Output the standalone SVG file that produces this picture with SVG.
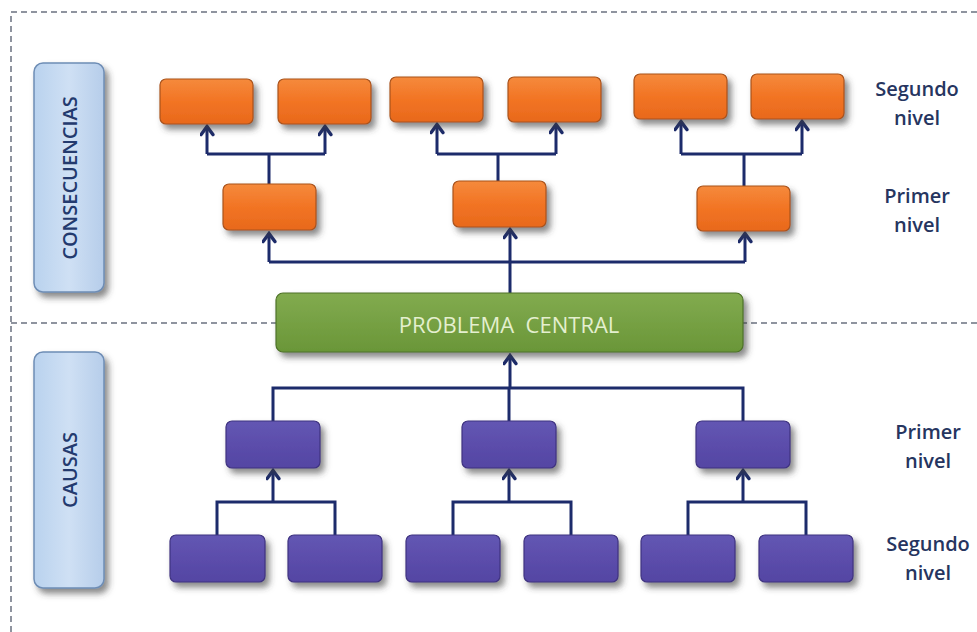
<svg xmlns="http://www.w3.org/2000/svg" width="977" height="632" viewBox="0 0 977 632">
  <defs>
    <filter id="shadow" x="-20%" y="-20%" width="150%" height="160%">
      <feDropShadow dx="4" dy="5" stdDeviation="3.2" flood-color="#3a3a3a" flood-opacity="0.6"/>
    </filter>
    <linearGradient id="gOrange" x1="0" y1="0" x2="0" y2="1">
      <stop offset="0" stop-color="#f58a3c"/>
      <stop offset="0.5" stop-color="#f27424"/>
      <stop offset="1" stop-color="#e8691c"/>
    </linearGradient>
    <linearGradient id="gPurple" x1="0" y1="0" x2="0" y2="1">
      <stop offset="0" stop-color="#6356b3"/>
      <stop offset="1" stop-color="#5445a3"/>
    </linearGradient>
    <linearGradient id="gGreen" x1="0" y1="0" x2="0" y2="1">
      <stop offset="0" stop-color="#82ab4f"/>
      <stop offset="1" stop-color="#6a9638"/>
    </linearGradient>
    <linearGradient id="gBlue" x1="0" y1="0" x2="1" y2="0">
      <stop offset="0" stop-color="#b9d2ee"/>
      <stop offset="0.5" stop-color="#cfe0f4"/>
      <stop offset="1" stop-color="#b6cdea"/>
    </linearGradient>
    <!-- open chevron head, drawn pointing along +x so orient="auto" follows the line -->
    <marker id="arrow" viewBox="0 0 12 14" refX="10" refY="7" markerWidth="13" markerHeight="15" markerUnits="userSpaceOnUse" orient="auto">
      <path d="M2,1.5 L9.5,7 L2,12.5" fill="none" stroke="#1c2b6b" stroke-width="3.2" stroke-linecap="round" stroke-linejoin="miter"/>
    </marker>
    <style>
      .frame { fill: none; stroke: #6b7280; stroke-width: 1.5; stroke-dasharray: 6 4; }
      .wire { fill: none; stroke: #1c2b6b; stroke-width: 3; stroke-linejoin: miter; }
      .tip { marker-end: url(#arrow); }
      .orange { fill: url(#gOrange); stroke: #a9531c; stroke-width: 1.2; filter: url(#shadow); }
      .purple { fill: url(#gPurple); stroke: #3f3380; stroke-width: 1.2; filter: url(#shadow); }
      .green { fill: url(#gGreen); stroke: #4e7228; stroke-width: 1.2; filter: url(#shadow); }
      .side { fill: url(#gBlue); stroke: #6e8db5; stroke-width: 1.5; filter: url(#shadow); }
      .sideText { font-family: "Open Sans", "Liberation Sans", sans-serif; font-size: 20px; font-weight: 600; fill: #233a6e; text-anchor: middle; }
      .level { font-family: "Open Sans", "Liberation Sans", sans-serif; font-size: 20px; font-weight: 600; fill: #26355f; text-anchor: middle; }
      .central { font-family: "Open Sans", "Liberation Sans", sans-serif; font-size: 22px; fill: #e4efcf; text-anchor: middle; }
    </style>
  </defs>

  <rect width="977" height="632" fill="#ffffff"/>

  <!-- dashed frame and divider -->
  <g id="frame">
    <path class="frame" d="M11,632 L11,12 L977,12"/>
    <path class="frame" d="M11,323 L977,323"/>
  </g>

  <!-- side labels -->
  <g id="consecuencias">
    <rect class="side" x="34" y="63" width="70" height="229" rx="9"/>
    <text class="sideText" transform="translate(77,178) rotate(-90)">CONSECUENCIAS</text>
  </g>
  <g id="causas">
    <rect class="side" x="34" y="352" width="70" height="236" rx="9"/>
    <text class="sideText" transform="translate(77,470) rotate(-90)">CAUSAS</text>
  </g>

  <!-- connectors -->
  <g id="connectors">
    <!-- consequences: central problem up to first level -->
    <path class="wire" d="M269,262 L745,262"/>
    <path class="wire" d="M510,294 L510,262"/>
    <path class="wire tip" d="M269,262 L269,233"/>
    <path class="wire tip" d="M510,262 L510,229"/>
    <path class="wire tip" d="M745,262 L745,233"/>
    <!-- consequences: first level up to second level -->
    <path class="wire" d="M269,184 L269,154 M207,154 L325,154"/>
    <path class="wire tip" d="M207,154 L207,126"/>
    <path class="wire tip" d="M325,154 L325,126"/>
    <path class="wire" d="M498,181 L498,154 M437,154 L556,154"/>
    <path class="wire tip" d="M437,154 L437,124"/>
    <path class="wire tip" d="M556,154 L556,124"/>
    <path class="wire" d="M744,186 L744,154 M681,154 L802,154"/>
    <path class="wire tip" d="M681,154 L681,121"/>
    <path class="wire tip" d="M802,154 L802,121"/>
    <!-- causes: first level up to central problem -->
    <path class="wire" d="M273,421 L273,388 L743,388 L743,421"/>
    <path class="wire" d="M509,421 L509,388"/>
    <path class="wire tip" d="M510,388 L510,355"/>
    <!-- causes: second level up to first level -->
    <path class="wire" d="M217,535 L217,502 L335,502 L335,535"/>
    <path class="wire tip" d="M273,502 L273,470"/>
    <path class="wire" d="M453,535 L453,502 L571,502 L571,535"/>
    <path class="wire tip" d="M509,502 L509,470"/>
    <path class="wire" d="M688,535 L688,502 L806,502 L806,535"/>
    <path class="wire tip" d="M743,502 L743,470"/>
  </g>

  <!-- consequences, second level -->
  <g id="c2-1"><rect class="orange" x="160" y="79" width="93" height="45" rx="6"/></g>
  <g id="c2-2"><rect class="orange" x="278" y="79" width="93" height="45" rx="6"/></g>
  <g id="c2-3"><rect class="orange" x="390" y="77" width="93" height="45" rx="6"/></g>
  <g id="c2-4"><rect class="orange" x="508" y="77" width="93" height="45" rx="6"/></g>
  <g id="c2-5"><rect class="orange" x="634" y="74" width="93" height="45" rx="6"/></g>
  <g id="c2-6"><rect class="orange" x="751" y="74" width="93" height="45" rx="6"/></g>

  <!-- consequences, first level -->
  <g id="c1-1"><rect class="orange" x="223" y="184" width="93" height="46" rx="6"/></g>
  <g id="c1-2"><rect class="orange" x="453" y="181" width="93" height="46" rx="6"/></g>
  <g id="c1-3"><rect class="orange" x="697" y="186" width="93" height="45" rx="6"/></g>

  <!-- central problem -->
  <g id="problema-central">
    <rect class="green" x="276" y="293" width="467" height="59" rx="7"/>
    <text class="central" x="509" y="333" xml:space="preserve">PROBLEMA  CENTRAL</text>
  </g>

  <!-- causes, first level -->
  <g id="k1-1"><rect class="purple" x="226" y="421" width="94" height="47" rx="6"/></g>
  <g id="k1-2"><rect class="purple" x="462" y="421" width="94" height="47" rx="6"/></g>
  <g id="k1-3"><rect class="purple" x="696" y="421" width="94" height="47" rx="6"/></g>

  <!-- causes, second level -->
  <g id="k2-1"><rect class="purple" x="170" y="535" width="95" height="47" rx="6"/></g>
  <g id="k2-2"><rect class="purple" x="288" y="535" width="94" height="47" rx="6"/></g>
  <g id="k2-3"><rect class="purple" x="406" y="535" width="94" height="47" rx="6"/></g>
  <g id="k2-4"><rect class="purple" x="524" y="535" width="94" height="47" rx="6"/></g>
  <g id="k2-5"><rect class="purple" x="641" y="535" width="94" height="47" rx="6"/></g>
  <g id="k2-6"><rect class="purple" x="759" y="535" width="94" height="47" rx="6"/></g>

  <!-- level captions -->
  <g id="levels">
    <text class="level" x="917" y="96">Segundo</text>
    <text class="level" x="917" y="125">nivel</text>
    <text class="level" x="917" y="203">Primer</text>
    <text class="level" x="917" y="232">nivel</text>
    <text class="level" x="928" y="439">Primer</text>
    <text class="level" x="928" y="468">nivel</text>
    <text class="level" x="928" y="551">Segundo</text>
    <text class="level" x="928" y="580">nivel</text>
  </g>
</svg>
